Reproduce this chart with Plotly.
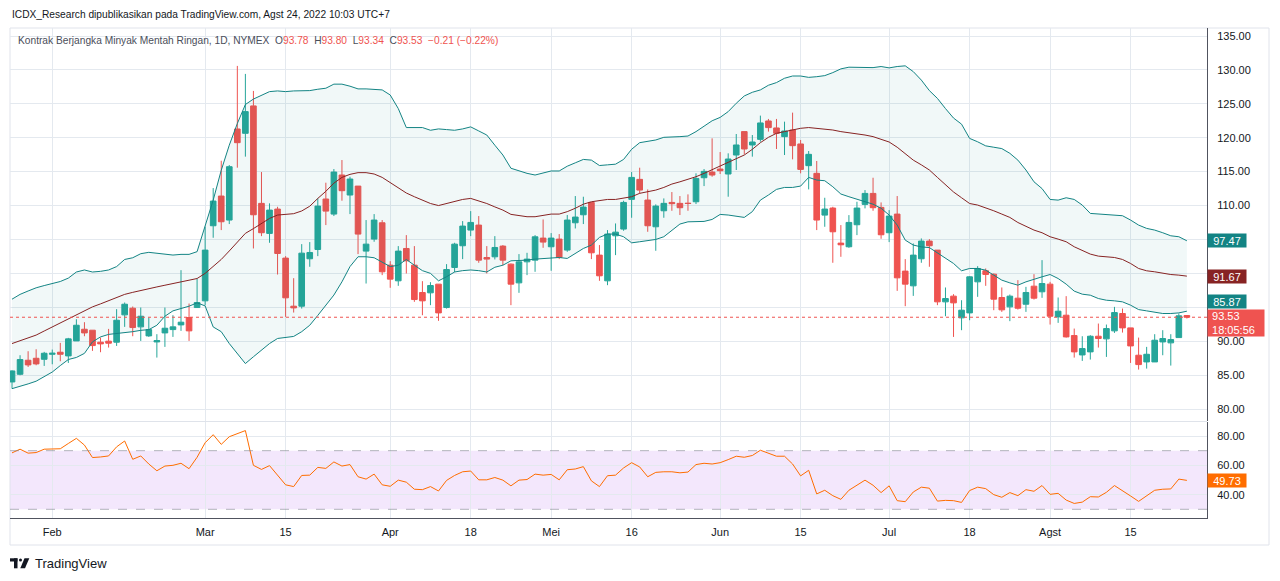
import plotly.graph_objects as go

# ---------------- data ----------------
month_days = {
    "2022-01": [25, 26, 27, 28, 31],
    "2022-02": [1, 2, 3, 4, 7, 8, 9, 10, 11, 14, 15, 16, 17, 18, 22, 23, 24, 25, 28],
    "2022-03": [1, 2, 3, 4, 7, 8, 9, 10, 11, 14, 15, 16, 17, 18, 21, 22, 23, 24, 25, 28, 29, 30, 31],
    "2022-04": [1, 4, 5, 6, 7, 8, 11, 12, 13, 14, 18, 19, 20, 21, 22, 25, 26, 27, 28, 29],
    "2022-05": [2, 3, 4, 5, 6, 9, 10, 11, 12, 13, 16, 17, 18, 19, 20, 23, 24, 25, 26, 27, 31],
    "2022-06": [1, 2, 3, 6, 7, 8, 9, 10, 13, 14, 15, 16, 17, 21, 22, 23, 24, 27, 28, 29, 30],
    "2022-07": [1, 5, 6, 7, 8, 11, 12, 13, 14, 15, 18, 19, 20, 21, 22, 25, 26, 27, 28, 29],
    "2022-08": [1, 2, 3, 4, 5, 8, 9, 10, 11, 12, 15, 16, 17, 18, 19, 22, 23, 24],
}
dates = [f"{m}-{d:02d}" for m, ds in month_days.items() for d in ds]

opens = [83.99, 85.12, 87.19, 87.48, 87.33,
         88.07, 88.37, 87.83, 90.04, 91.76, 91.62, 89.85, 90.00, 89.85, 93.88, 94.86, 92.11, 90.78, 89.89, 91.22, 91.71, 92.40, 93.49, 94.96,
         95.95, 107.02, 111.40, 107.86, 121.29, 120.65, 124.69, 110.32, 105.89, 109.48, 102.25, 95.16, 95.16, 102.15, 103.52, 110.96, 108.74, 114.50, 111.55, 112.87, 103.28, 105.05, 107.46,
         101.21, 98.90, 103.67, 101.21, 97.18, 97.13, 98.41, 94.96, 100.87, 104.07, 106.38, 107.12, 102.34, 102.44, 104.02, 101.36, 98.60, 101.70, 101.95, 105.20,
         103.92, 105.05, 103.43, 107.46, 108.64, 110.46, 102.69, 98.90, 105.54, 106.53, 110.91, 113.86, 110.81, 106.87, 109.23, 110.46, 110.32, 110.35, 110.56, 114.10, 114.94,
         115.38, 114.65, 117.45, 120.90, 118.93, 119.76, 122.47, 121.44, 120.16, 121.14, 119.08, 115.88, 114.75, 108.59, 109.63, 104.46, 103.92, 107.17, 110.17, 111.79, 109.73,
         105.99, 108.74, 100.33, 98.16, 102.15, 104.76, 103.43, 95.80, 96.64, 93.44, 94.17, 98.75, 100.38, 99.88, 96.44, 95.06, 96.34, 95.45, 98.11, 97.28,
         98.41, 93.58, 93.83, 90.83, 87.97, 88.42, 90.73, 90.34, 91.52, 94.08, 91.96, 87.93, 86.94, 86.94, 89.89, 89.75, 90.53, 93.78]
highs = [85.70, 87.93, 88.52, 88.81, 88.42,
         88.76, 89.75, 90.49, 93.24, 92.80, 91.62, 90.53, 91.81, 94.72, 95.70, 95.11, 94.96, 93.49, 91.03, 94.96, 93.83, 100.47, 95.55, 99.19,
         106.87, 112.58, 116.61, 115.97, 130.59, 129.41, 126.90, 114.94, 110.32, 109.82, 102.54, 99.29, 104.31, 104.61, 111.05, 113.37, 115.38, 116.71, 114.25, 112.87, 107.86, 108.74, 107.86,
         101.80, 104.02, 105.64, 104.02, 98.85, 98.70, 98.41, 101.36, 104.51, 107.71, 109.18, 108.45, 104.02, 105.49, 104.17, 101.46, 102.84, 103.03, 105.64, 107.95,
         105.94, 105.79, 108.60, 111.40, 111.30, 110.46, 104.17, 106.38, 107.36, 110.71, 114.94, 115.58, 112.38, 110.17, 111.05, 111.99, 111.40, 111.65, 114.75, 115.38, 119.91,
         117.89, 117.70, 120.55, 120.90, 120.40, 123.26, 122.77, 122.77, 122.37, 123.70, 119.67, 118.04, 116.57, 111.15, 109.82, 107.12, 108.59, 110.56, 112.28, 114.10, 110.46,
         109.33, 111.40, 102.10, 104.41, 105.15, 105.05, 103.43, 97.92, 96.93, 96.04, 99.59, 101.06, 100.72, 99.98, 97.92, 96.88, 99.00, 98.01, 99.88, 101.95,
         98.75, 96.44, 96.64, 91.86, 90.73, 90.88, 92.60, 92.45, 95.06, 94.81, 91.96, 90.53, 89.16, 91.03, 91.62, 91.03, 94.08, 93.80]
lows = [83.00, 84.97, 86.20, 86.45, 86.35,
        86.60, 87.04, 86.79, 90.04, 90.73, 88.57, 88.37, 89.06, 89.30, 92.11, 90.73, 90.04, 90.63, 87.58, 89.16, 90.63, 91.52, 90.04, 94.96,
        95.31, 105.25, 106.38, 107.27, 115.58, 117.21, 103.67, 105.49, 104.51, 99.83, 93.58, 94.22, 94.81, 100.97, 102.54, 107.12, 108.45, 110.71, 108.74, 102.84, 98.50, 104.66, 99.74,
        97.87, 98.16, 99.98, 95.80, 93.83, 95.31, 93.00, 94.81, 100.18, 102.10, 105.49, 101.56, 99.98, 102.05, 101.21, 95.31, 97.13, 99.74, 100.23, 103.77,
        100.38, 102.10, 103.18, 106.62, 107.27, 102.10, 98.90, 98.26, 102.69, 106.28, 108.20, 111.79, 106.13, 103.33, 108.20, 109.23, 108.60, 109.23, 110.22, 112.87, 114.25,
        114.65, 111.30, 115.24, 117.55, 117.21, 119.42, 120.90, 118.34, 117.45, 116.81, 114.75, 112.38, 106.38, 106.87, 101.56, 102.44, 103.77, 105.64, 109.58, 109.23, 105.10,
        104.61, 97.42, 95.16, 96.68, 101.56, 100.97, 95.31, 93.68, 90.63, 91.62, 93.09, 96.54, 98.16, 94.57, 94.32, 92.95, 94.66, 94.32, 96.14, 96.39,
        92.45, 92.70, 90.53, 87.58, 87.09, 87.29, 89.06, 87.68, 91.22, 91.27, 86.79, 85.81, 85.96, 86.94, 87.93, 86.40, 90.53, 93.34]
closes = [85.61, 87.29, 86.50, 86.65, 88.22,
          88.22, 88.07, 90.34, 92.35, 91.22, 89.35, 89.60, 89.70, 93.09, 95.45, 92.01, 93.68, 91.71, 90.09, 91.91, 92.11, 92.80, 91.52, 95.70,
          103.43, 110.66, 107.61, 115.73, 119.27, 123.85, 108.64, 105.99, 109.33, 102.93, 96.39, 94.91, 102.98, 103.08, 109.92, 109.18, 114.94, 112.19, 113.91, 105.79, 104.31, 107.86, 100.23,
          99.15, 103.28, 101.85, 96.14, 95.95, 98.21, 94.17, 100.57, 104.31, 106.97, 107.51, 101.95, 102.10, 103.82, 101.95, 98.41, 101.70, 102.10, 105.39, 104.61,
          105.20, 102.34, 107.86, 108.30, 109.77, 103.03, 99.64, 105.79, 106.08, 110.46, 114.15, 112.28, 107.02, 109.92, 110.32, 110.27, 109.68, 110.30, 114.00, 115.04, 114.50,
          115.14, 116.86, 118.93, 118.34, 119.37, 122.18, 121.49, 120.65, 120.99, 118.83, 115.33, 117.55, 107.86, 109.48, 106.13, 104.21, 107.51, 109.63, 111.79, 109.68, 105.69,
          108.45, 99.34, 98.41, 102.69, 104.76, 104.07, 95.80, 96.29, 95.65, 94.57, 99.49, 100.72, 99.84, 96.19, 94.62, 96.64, 94.86, 97.18, 96.34, 98.50,
          93.68, 94.42, 90.63, 88.42, 88.91, 90.73, 90.39, 91.86, 94.22, 91.96, 89.30, 86.55, 88.07, 90.14, 90.39, 90.24, 93.74, 93.53]

bb_upper = [96.19, 96.9, 97.4, 97.87, 98.2,
            98.5, 98.8, 99.3, 100.2, 100.5, 100.2, 100.3, 100.5, 101.0, 102.05, 102.3, 102.9, 103.1, 103.0, 102.8, 102.7, 102.8, 102.8, 103.2,
            106.9, 110.8, 115.2, 118.9, 122.1, 124.9, 125.7, 126.2, 126.8, 126.9, 126.8, 126.9, 126.9, 126.95, 127.15, 127.3, 127.9, 127.9, 127.6, 127.2, 127.2, 127.15, 127.05,
            126.3, 124.3, 121.5, 121.5, 121.5, 121.1, 121.3, 121.2, 121.1, 121.3, 121.6, 121.0, 120.4, 118.9, 117.45, 115.5, 115.1, 114.75, 114.5, 114.75,
            115.1, 115.1, 115.8, 116.3, 116.8, 116.7, 115.9, 116.0, 116.1, 116.8, 118.3, 119.27, 119.42, 119.67, 120.06, 120.06, 120.16, 120.25, 120.9, 121.7, 122.5,
            123.0, 123.85, 125.08, 126.16, 126.7, 127.05, 127.74, 128.13, 128.77, 129.1, 129.1, 128.9, 129.0, 129.16, 129.6, 130.15, 130.4, 130.4, 130.34, 130.34, 130.5,
            130.3, 130.5, 130.6, 129.75, 128.5, 126.95, 125.8, 124.3, 122.9, 122.0, 119.9, 119.4, 118.8, 118.6, 118.4, 117.7, 116.7, 115.24, 113.5, 112.5,
            110.9, 110.8, 111.15, 110.9, 110.07, 108.84, 108.74, 108.7, 108.6, 108.5, 107.86, 107.12, 106.63, 106.38, 105.99, 105.54, 105.4, 104.8]
bb_basis = [89.65, 90.1, 90.5, 90.9, 91.5,
            92.1, 92.7, 93.3, 93.9, 94.5, 95.06, 95.5, 95.95, 96.4, 96.9, 97.2, 97.5, 97.75, 98.0, 98.25, 98.5, 98.7, 98.9, 99.24,
            100.0, 101.0, 102.05, 103.3, 104.66, 105.9, 106.6, 107.4, 108.1, 108.6, 108.7, 108.8, 109.2, 109.9, 111.05, 112.1, 113.3, 114.15, 114.6, 114.85, 114.85, 114.65, 114.15,
            113.35, 112.6, 111.85, 111.3, 110.8, 110.3, 110.0, 110.3, 110.7, 110.9, 111.05, 110.7, 110.3, 109.8, 109.33, 108.7, 108.5, 108.35, 108.35, 108.5,
            108.74, 108.74, 109.1, 109.6, 110.2, 110.56, 110.7, 110.9, 110.9, 111.05, 111.3, 111.8, 112.0, 112.28, 112.67, 113.17, 113.5, 113.86, 114.25, 114.74, 115.24,
            115.83, 116.37, 116.86, 117.45, 118.29, 119.27, 120.06, 120.65, 120.9, 121.14, 121.39, 121.5, 121.4, 121.3, 121.14, 120.9, 120.75, 120.55, 120.4, 120.16, 119.76,
            119.37, 118.6, 117.6, 116.7, 116.0, 115.24, 114.15, 113.0, 112.0, 111.15, 110.3, 110.07, 109.7, 109.23, 108.74, 108.25, 107.5, 106.97, 106.38, 105.99,
            105.4, 105.05, 104.66, 103.92, 103.33, 102.84, 102.54, 102.44, 102.34, 102.05, 101.46, 100.72, 100.38, 100.23, 99.98, 99.83, 99.74, 99.59]
bb_lower = [83.0, 83.3, 83.7, 84.1, 84.8,
            85.45, 86.4, 87.3, 87.6, 88.2, 89.9, 90.63, 91.0, 91.1, 91.2, 91.4, 91.6, 91.7, 92.35, 93.68, 94.47, 94.8, 95.16, 95.65,
            95.2, 92.1, 91.4, 89.65, 88.2, 86.7, 87.7, 88.7, 89.65, 90.4, 90.5, 90.7, 91.4, 92.35, 93.8, 95.3, 96.8, 98.75, 101.0, 102.45, 102.45, 102.3, 101.7,
            101.0, 101.2, 102.05, 101.2, 100.4, 100.0, 98.9, 99.5, 100.2, 100.4, 100.5, 100.4, 100.2, 100.9, 101.2, 101.85, 101.85, 101.95, 102.1, 102.2,
            102.34, 102.34, 102.2, 102.9, 103.67, 104.17, 105.3, 105.8, 105.79, 105.4, 104.5, 104.66, 104.8, 105.0, 105.4, 106.38, 107.27, 107.6, 107.6, 107.66, 107.95,
            108.69, 108.6, 108.45, 108.25, 109.1, 110.8, 111.55, 112.38, 112.67, 112.67, 112.87, 114.15, 113.76, 113.66, 112.77, 111.7, 111.3, 110.9, 110.56, 110.2, 109.6,
            108.6, 107.12, 104.9, 104.17, 103.9, 103.8, 103.03, 102.2, 101.46, 100.38, 100.72, 100.72, 100.47, 99.74, 99.0, 98.6, 98.26, 98.75, 99.15, 99.49,
            99.83, 99.24, 98.41, 97.38, 96.93, 96.78, 96.29, 96.04, 95.95, 95.80, 95.31, 94.66, 94.47, 94.22, 94.08, 94.08, 94.17, 94.42]
rsi = [68.5, 71.0, 68.3, 68.7, 71.0,
       71.3, 71.3, 74.9, 78.4, 73.8, 65.3, 65.7, 66.4, 72.6, 76.6, 64.1, 66.4, 60.9, 56.3, 59.5, 60.0, 61.4, 57.7, 65.5,
       75.4, 80.9, 74.3, 79.5, 81.6, 83.7, 60.0, 57.2, 59.8, 53.1, 46.7, 45.5, 53.1, 53.3, 58.6, 57.9, 62.3, 59.5, 60.5, 52.2, 50.6, 54.0, 46.7,
       45.7, 49.9, 48.5, 43.7, 43.4, 45.5, 42.5, 49.7, 53.1, 55.6, 56.1, 50.1, 50.1, 51.7, 49.9, 46.0, 49.9, 50.3, 54.0, 53.3,
       53.8, 50.1, 57.0, 57.5, 59.1, 49.4, 45.5, 52.9, 53.3, 58.2, 61.8, 58.9, 52.2, 55.2, 55.6, 55.6, 54.9, 55.4, 60.5, 61.4, 60.9,
       61.8, 63.9, 66.2, 65.5, 66.7, 70.3, 68.3, 66.2, 66.2, 60.9, 52.8, 56.6, 40.5, 43.0, 39.3, 36.8, 43.0, 46.4, 49.9, 46.4, 41.4,
       46.0, 35.9, 35.2, 41.8, 45.1, 44.4, 35.6, 36.1, 35.9, 34.7, 42.8, 45.1, 44.1, 40.0, 38.2, 41.4, 39.3, 43.4, 42.3, 46.2,
       40.2, 40.9, 36.3, 34.0, 34.9, 38.6, 38.4, 41.6, 46.2, 42.8, 39.1, 35.4, 39.3, 43.0, 43.7, 43.9, 50.6, 49.73]

tick_dates = ["2022-02-01", "2022-03-01", "2022-03-15", "2022-04-01", "2022-04-18", "2022-05-02",
              "2022-05-16", "2022-06-01", "2022-06-15", "2022-07-01", "2022-07-18", "2022-08-01", "2022-08-15"]
tick_labels = ["Feb", "Mar", "15", "Apr", "18", "Mei", "16", "Jun", "15", "Jul", "18", "Agst", "15"]
price_ticks = [80, 85, 90, 95, 100, 105, 110, 115, 120, 125, 130, 135]
hidden_price_ticks = [95, 100, 105]   # covered by the indicator value boxes in the reference
rsi_ticks = [40, 60, 80]
rsi_band = [30, 70]
bb_label_texts = ["97.47", "91.67", "85.87"]
countdown = "18:05:56"
title_text = "ICDX_Research dipublikasikan pada TradingView.com, Agst 24, 2022 10:03 UTC+7"
symbol_text = "Kontrak Berjangka Minyak Mentah Ringan, 1D, NYMEX"

# ---------------- styling ----------------
W, H = 1280, 581
ML, MR, MT, MB = 10, 73, 28, 63
PW, PH = W - ML - MR, H - MT - MB
UP, DN = "#26a69a", "#ef5350"
TEAL, BASIS = "#138484", "#872323"
RSI_C = "#ff6d00"
GRID = "#e4e9ef"
AXIS = "#50535e"
FONT = "Liberation Sans, Arial, sans-serif"


def py(pix):
    return (H - MB - pix) / PH


def px(pix):
    return (pix - ML) / PW


x = list(range(len(dates)))
tick_x = [dates.index(d) for d in tick_dates]

fig = go.Figure()
fig.add_trace(go.Scatter(x=x, y=bb_upper, mode="lines", line=dict(color=TEAL, width=1),
                         hoverinfo="skip", xaxis="x", yaxis="y"))
fig.add_trace(go.Scatter(x=x, y=bb_lower, mode="lines", line=dict(color=TEAL, width=1),
                         fill="tonexty", fillcolor="rgba(19,132,132,0.06)", hoverinfo="skip",
                         xaxis="x", yaxis="y"))
fig.add_trace(go.Scatter(x=x, y=bb_basis, mode="lines", line=dict(color=BASIS, width=1),
                         hoverinfo="skip", xaxis="x", yaxis="y"))
fig.add_trace(go.Candlestick(x=x, open=opens, high=highs, low=lows, close=closes,
                             increasing=dict(line=dict(color=UP, width=1), fillcolor=UP),
                             decreasing=dict(line=dict(color=DN, width=1), fillcolor=DN),
                             whiskerwidth=0, xaxis="x", yaxis="y"))
fig.add_trace(go.Scatter(x=x, y=rsi, mode="lines", line=dict(color=RSI_C, width=1),
                         hoverinfo="skip", xaxis="x2", yaxis="y2"))

xr = [-0.25, 148.5]
fig.update_layout(
    width=W, height=H, margin=dict(l=ML, r=MR, t=MT, b=MB),
    paper_bgcolor="white", plot_bgcolor="white", showlegend=False,
    boxgap=0.3, boxgroupgap=0,
    font=dict(family=FONT, size=11, color="#131722"),
    xaxis=dict(domain=[0, 1], anchor="y", range=xr, tickvals=tick_x, showticklabels=False,
               showgrid=True, gridcolor=GRID, zeroline=False, ticks="",
               rangeslider=dict(visible=False)),
    yaxis=dict(domain=[py(421), 1], anchor="x", range=[78.23, 136.18], side="right",
               tickvals=price_ticks,
               ticktext=["" if v in hidden_price_ticks else f"{v:.2f}" for v in price_ticks],
               showgrid=True, gridcolor=GRID, zeroline=False, showline=True,
               linecolor=AXIS, ticks="", ticklabelstandoff=7),
    xaxis2=dict(domain=[0, 1], anchor="y2", matches="x", range=xr, tickvals=tick_x,
                ticktext=tick_labels, showgrid=True, gridcolor=GRID, zeroline=False,
                showline=True, linecolor=AXIS, ticks="", ticklabelstandoff=4),
    yaxis2=dict(domain=[0, py(422)], anchor="x2", range=[24.07, 89.55], side="right",
                tickvals=rsi_ticks, ticktext=[f"{v:.2f}" for v in rsi_ticks],
                showgrid=True, gridcolor=GRID, zeroline=False, showline=True,
                linecolor=AXIS, ticks="", ticklabelstandoff=7),
)

shapes = []
shapes.append(dict(type="rect", xref="paper", yref="y2", x0=0, x1=1, y0=rsi_band[0], y1=rsi_band[1],
                   fillcolor="#f3e7fc", line=dict(width=0), layer="below"))
for lvl in rsi_band:
    shapes.append(dict(type="line", xref="paper", yref="y2", x0=0, x1=1, y0=lvl, y1=lvl,
                       line=dict(color="rgba(120,123,134,0.55)", width=1, dash="dash")))
shapes.append(dict(type="line", xref="paper", yref="y", x0=0, x1=1, y0=closes[-1], y1=closes[-1],
                   line=dict(color=DN, width=1, dash="dot")))
shapes.append(dict(type="line", xref="paper", yref="paper", x0=0, x1=1, y0=py(421.5), y1=py(421.5),
                   line=dict(color="#dfe3ea", width=1)))
shapes.append(dict(type="rect", xref="paper", yref="paper", x0=px(10), x1=px(1269), y0=py(545), y1=py(28),
                   line=dict(color="#e0e3eb", width=1), fillcolor="rgba(0,0,0,0)", layer="below"))
# TradingView logo
shapes.append(dict(type="rect", xref="paper", yref="paper", x0=px(10), x1=px(17.5), y0=py(561.5), y1=py(558.3),
                   fillcolor="#131722", line=dict(width=0)))
shapes.append(dict(type="rect", xref="paper", yref="paper", x0=px(14), x1=px(17.5), y0=py(568.3), y1=py(558.3),
                   fillcolor="#131722", line=dict(width=0)))
shapes.append(dict(type="circle", xref="paper", yref="paper", x0=px(19), x1=px(22), y0=py(561.6), y1=py(558.6),
                   fillcolor="#131722", line=dict(width=0)))
shapes.append(dict(type="path", xref="paper", yref="paper",
                   path=f"M {px(24.5)} {py(558.3)} L {px(29.3)} {py(558.3)} L {px(25)} {py(568.3)} L {px(20.3)} {py(568.3)} Z",
                   fillcolor="#131722", line=dict(width=0)))
fig.update_layout(shapes=shapes)

chg = closes[-1] - closes[-2]
pct = chg / closes[-2] * 100
red = DN
legend_html = (f"{symbol_text}&nbsp;&nbsp;"
               f"O<span style='color:{red}'>{opens[-1]:.2f}</span>&nbsp;&nbsp;"
               f"H<span style='color:{red}'>{highs[-1]:.2f}</span>&nbsp;&nbsp;"
               f"L<span style='color:{red}'>{lows[-1]:.2f}</span>&nbsp;&nbsp;"
               f"C<span style='color:{red}'>{closes[-1]:.2f}</span>&nbsp;&nbsp;"
               f"<span style='color:{red}'>{chg:.2f} ({pct:.2f}%)</span>").replace("-", "\u2212")

ann = []
ann.append(dict(xref="paper", yref="paper", x=px(10), y=py(14), xanchor="left", yanchor="middle",
                text=title_text, showarrow=False, font=dict(size=10.2, color="#131722")))
ann.append(dict(xref="paper", yref="paper", x=px(16), y=py(41), xanchor="left", yanchor="middle",
                text=legend_html, showarrow=False, font=dict(size=10.2, color="#4a4e5a")))
ann.append(dict(xref="paper", yref="paper", x=px(33), y=py(563), xanchor="left", yanchor="middle",
                text="TradingView", showarrow=False, font=dict(size=13, color="#131722")))


def axis_label(text, y, yref, bg, yshift=0, w=36, h=11):
    return dict(xref="paper", yref=yref, x=1, y=y, xanchor="left", yanchor="middle", yshift=yshift,
                text=text, showarrow=False, bgcolor=bg, borderpad=1, width=w, height=h, align="center",
                font=dict(size=11, color="white"))


ann.append(axis_label(bb_label_texts[0], bb_upper[-1], "y", TEAL))
ann.append(axis_label(bb_label_texts[1], bb_basis[-1], "y", BASIS))
ann.append(axis_label(bb_label_texts[2], bb_lower[-1], "y", TEAL, yshift=10))
ann.append(dict(xref="paper", yref="y", x=1, y=closes[-1], xanchor="left", yanchor="middle", yshift=-6,
                text=f"&nbsp;{closes[-1]:.2f}<br>&nbsp;{countdown}", showarrow=False, bgcolor=DN,
                borderpad=1, width=54, height=24, align="left", font=dict(size=11, color="white")))
ann.append(axis_label(f"{rsi[-1]:.2f}", rsi[-1], "y2", RSI_C))
fig.update_layout(annotations=ann)

fig.write_html("out.html", config={"displayModeBar": False},
               post_script="document.body.style.margin='0px';document.body.style.overflow='hidden';")
